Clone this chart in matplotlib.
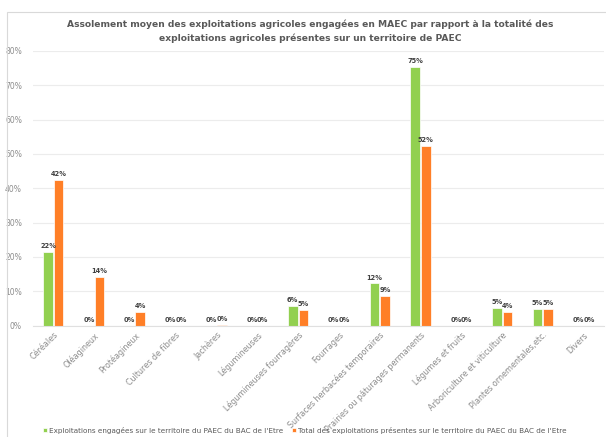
import numpy as np
import matplotlib.pyplot as plt
from matplotlib.patches import Rectangle
from matplotlib.ticker import PercentFormatter

categories = ['Céréales', 'Oléagineux', 'Protéagineux', 'Cultures de fibres', 'Jachères',
              'Légumineuses', 'Légumineuses fourragères', 'Fourrages',
              'Surfaces herbacées temporaires', 'Prairies ou pâturages permanents',
              'Légumes et fruits', 'Arboriculture et viticulture',
              'Plantes ornementales,etc.', 'Divers']
engagees = [0.216, 0.0, 0.0, 0.0, 0.0, 0.0, 0.057, 0.0, 0.123, 0.753, 0.0, 0.052, 0.048, 0.0]
total = [0.424, 0.142, 0.041, 0.0, 0.003, 0.0, 0.046, 0.0, 0.086, 0.523, 0.0, 0.041, 0.048, 0.0]
serie1 = "Exploitations engagées sur le territoire du PAEC du BAC de l'Etre"
serie2 = "Total des exploitations présentes sur le territoire du PAEC du BAC de l'Etre"

plt.rcParams['font.family'] = ['DejaVu Sans']
gris = '#595959'
vert = '#92d050'
orange = '#ff7f27'

fig = plt.figure(figsize=(6.06, 4.37), dpi=100)
ax = fig.add_axes([33/606, 1-325.7/437, 571/606, 274.8/437])

# cadre du graphique
fig.patches.append(Rectangle((7/606, -0.1), 1.2, 1.1 - 12/437, transform=fig.transFigure,
                             fill=False, edgecolor='#d9d9d9', linewidth=0.8))

x = np.arange(len(categories))
w = 0.235
b1 = ax.bar(x - 0.13, engagees, w, color=vert, edgecolor='white', linewidth=0.5)
b2 = ax.bar(x + 0.13, total, w, color=orange, edgecolor='white', linewidth=0.5)

for bars in (b1, b2):
    ax.bar_label(bars, labels=['%d%%' % round(v * 100) for v in bars.datavalues],
                 padding=2, fontsize=4.8, fontweight='bold', color='#404040')

ax.set_ylim(0, 0.8)
ax.set_xlim(-0.5, len(categories) - 0.5)
ax.set_yticks(np.arange(0, 0.81, 0.1))
ax.yaxis.set_major_formatter(PercentFormatter(1.0, decimals=0))
ax.grid(axis='y', color='#ececec', linewidth=0.8)
ax.set_axisbelow(True)
for s in ['top', 'right', 'left']:
    ax.spines[s].set_visible(False)
ax.spines['bottom'].set_color('#e0e0e0')
ax.tick_params(axis='both', length=0, labelsize=5.5, colors='#8c8c8c')
ax.tick_params(axis='y', pad=8)
ax.set_xticks(x)
ax.set_xticklabels(categories, rotation=45, ha='right', rotation_mode='anchor', fontsize=5.8)

fig.text(310/606, 1-24/437, "Assolement moyen des exploitations agricoles engagées en MAEC par rapport à la totalité des",
         ha='center', va='center', fontsize=6.6, fontweight='bold', color=gris)
fig.text(310/606, 1-38/437, "exploitations agricoles présentes sur un territoire de PAEC",
         ha='center', va='center', fontsize=6.6, fontweight='bold', color=gris)

fig.legend([b1, b2], [serie1, serie2], loc='center', bbox_to_anchor=(305/606, 1-430/437),
           ncol=2, frameon=False, fontsize=5.2, handlelength=0.5, handleheight=0.5,
           handletextpad=0.3, columnspacing=1.2, labelcolor=gris)

fig.savefig('out.png', dpi=100)
